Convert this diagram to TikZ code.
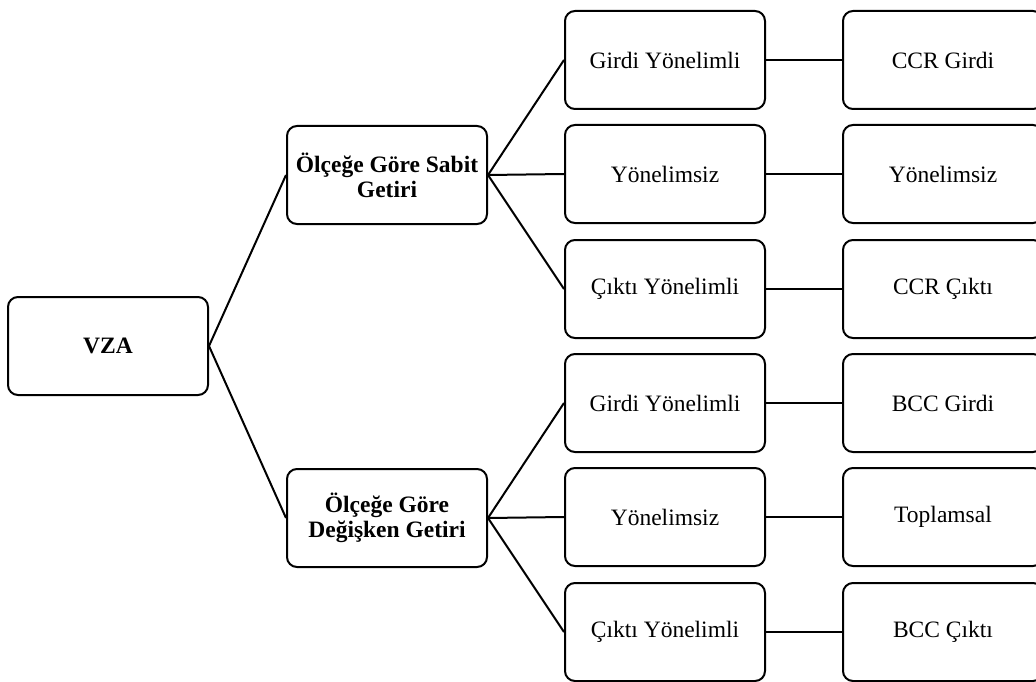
\documentclass[tikz,border=0pt]{standalone}
\usepackage{fontspec}
\setmainfont{Liberation Serif}
\begin{document}
\begin{tikzpicture}[x=1pt,y=-1pt,
  box/.style={draw=black, line width=2pt, rounded corners=10pt, fill=white,
    minimum width=200pt, minimum height=98pt, inner sep=2pt, align=center,
    font=\fontsize{23.5}{25}\selectfont},
  boldbox/.style={box, font=\fontsize{23.5}{25}\selectfont\bfseries},
  link/.style={line width=2pt, black}]
\useasboundingbox (0,0) rectangle (1036,682);
\fill[white] (0,0) rectangle (1036,682);
\node[boldbox] (vza) at (108,346) {VZA};
\node[boldbox] (sabit) at (387,175) {Ölçeğe Göre Sabit\\Getiri};
\node[boldbox] (degisken) at (387,518) {Ölçeğe Göre\\Değişken Getiri};
\node[box] (a1) at (665,60) {Girdi Yönelimli};
\node[box] (a2) at (665,174) {Yönelimsiz};
\node[box] (a3) at (665,289) {Çıktı Yönelimli};
\node[box] (a4) at (665,403) {Girdi Yönelimli};
\node[box] (a5) at (665,517) {Yönelimsiz};
\node[box] (a6) at (665,632) {Çıktı Yönelimli};
\node[box] (b1) at (943,60) {CCR Girdi};
\node[box] (b2) at (943,174) {Yönelimsiz};
\node[box] (b3) at (943,289) {CCR Çıktı};
\node[box] (b4) at (943,403) {BCC Girdi};
\node[box] (b5) at (943,517) {Toplamsal};
\node[box] (b6) at (943,632) {BCC Çıktı};
\draw[link] (vza.east) -- (sabit.west);
\draw[link] (vza.east) -- (degisken.west);
\foreach \t in {a1,a2,a3} \draw[link] (sabit.east) -- (\t.west);
\foreach \t in {a4,a5,a6} \draw[link] (degisken.east) -- (\t.west);
\draw[link] (a1) -- (b1);
\draw[link] (a2) -- (b2);
\draw[link] (a3) -- (b3);
\draw[link] (a4) -- (b4);
\draw[link] (a5) -- (b5);
\draw[link] (a6) -- (b6);
\end{tikzpicture}
\end{document}
